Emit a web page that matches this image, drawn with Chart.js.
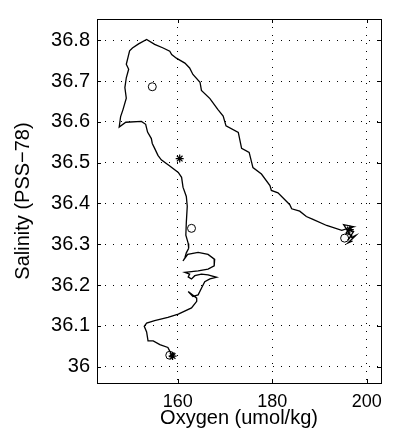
<!DOCTYPE html>
<html>
<head>
<meta charset="utf-8">
<script src="https://cdn.jsdelivr.net/npm/chart.js@4.4.0/dist/chart.umd.min.js"></script>
<style>
  html, body { margin: 0; padding: 0; background: #fff; }
  #wrap { width: 393px; height: 444px; }
</style>
</head>
<body>
<div id="wrap"><canvas id="chart"></canvas></div>
<script>
// profile trace (oxygen umol/kg, salinity PSS-78)
const oxygen = [197.0, 196.0, 197.7, 196.8, 195.1, 197.2, 196.4, 195.6, 196.8, 196.0, 197.2, 195.8, 194.7,
  191.5, 188.6, 187.2, 185.8, 184.1, 183.7, 181.2, 179.8, 179.5, 177.7, 175.9, 175.1,
  173.5, 172.8, 170.2, 169.6, 168.5, 167.8, 166.8, 165.0, 164.7, 163.2, 162.5, 161.5,
  159.7, 158.7, 158.3, 156.9, 155.1, 153.4, 151.7, 150.4, 149.8, 149.5, 149.1, 149.6,
  149.1, 148.8, 149.1, 148.4, 147.9, 147.6, 149.0, 152.3, 153.2, 153.6, 154.4, 154.6,
  155.1, 155.8, 156.5, 158.3, 160.1, 160.8, 161.1, 161.8, 162.0, 161.8, 161.7, 162.2,
  162.3, 161.8, 161.5, 161.1, 162.1, 164.3, 166.4, 167.8, 167.7, 166.4, 164.3, 162.9,
  161.5, 162.5, 162.2, 162.9, 163.6, 165.0, 166.4, 168.2, 166.8, 165.7, 165.0, 164.3,
  163.2, 162.2, 164.0, 164.0, 162.9, 160.1, 157.9, 155.1, 153.4, 152.9, 153.4, 153.7,
  154.8, 156.2, 157.9, 158.3, 158.7, 158.2, 159.3, 158.5, 159.0];
const salinity = [36.308, 36.303, 36.322, 36.317, 36.348, 36.343, 36.341, 36.327, 36.322, 36.310, 36.331, 36.338, 36.334,
  36.346, 36.361, 36.368, 36.381, 36.387, 36.397, 36.426, 36.432, 36.444, 36.472, 36.488, 36.525,
  36.535, 36.574, 36.590, 36.614, 36.630, 36.641, 36.657, 36.677, 36.697, 36.716, 36.732, 36.744,
  36.756, 36.765, 36.773, 36.781, 36.790, 36.802, 36.791, 36.781, 36.774, 36.760, 36.741, 36.729,
  36.708, 36.684, 36.658, 36.630, 36.613, 36.587, 36.599, 36.601, 36.594, 36.575, 36.559, 36.547,
  36.535, 36.518, 36.507, 36.492, 36.476, 36.464, 36.440, 36.417, 36.393, 36.353, 36.322, 36.302,
  36.290, 36.279, 36.267, 36.259, 36.275, 36.280, 36.275, 36.263, 36.247, 36.239, 36.235, 36.233,
  36.231, 36.227, 36.220, 36.215, 36.223, 36.227, 36.225, 36.219, 36.215, 36.208, 36.192, 36.176,
  36.172, 36.184, 36.168, 36.160, 36.144, 36.129, 36.121, 36.113, 36.107, 36.099, 36.085, 36.063,
  36.063, 36.054, 36.047, 36.038, 36.030, 36.024, 36.034, 36.028, 36.022];

// bottle samples
const circleOxygen = [154.6, 162.9, 158.3, 195.3];
const circleSalinity = [36.686, 36.339, 36.028, 36.315];
const starOxygen = [160.4, 158.9, 196.4];
const starSalinity = [36.510, 36.026, 36.336];

const xTicks = [160, 180, 200];
const yTicks = [36, 36.1, 36.2, 36.3, 36.4, 36.5, 36.6, 36.7, 36.8];

const pts = (xs, ys) => xs.map((x, i) => ({ x: x, y: ys[i] }));
const family = "'Liberation Sans', Arial, sans-serif";

// matlab style box with inward ticks
const frame = {
  id: 'frame',
  afterDraw(chart) {
    const { ctx, chartArea: a, scales } = chart;
    ctx.save();
    ctx.strokeStyle = '#000';
    ctx.lineWidth = 1;
    ctx.strokeRect(a.left + 0.5, a.top + 0.5, a.right - a.left, a.bottom - a.top);
    ctx.beginPath();
    xTicks.forEach(v => {
      const px = Math.round(scales.x.getPixelForValue(v)) + 0.5;
      ctx.moveTo(px, a.bottom); ctx.lineTo(px, a.bottom - 4);
      ctx.moveTo(px, a.top); ctx.lineTo(px, a.top + 4);
    });
    yTicks.forEach(v => {
      const py = Math.round(scales.y.getPixelForValue(v)) + 0.5;
      ctx.moveTo(a.left, py); ctx.lineTo(a.left + 4, py);
      ctx.moveTo(a.right, py); ctx.lineTo(a.right - 4, py);
    });
    ctx.stroke();
    ctx.restore();
  }
};

const ctx = document.getElementById('chart').getContext('2d');
new Chart(ctx, {
  type: 'scatter',
  data: {
    datasets: [{
      data: pts(oxygen, salinity),
      showLine: true,
      borderColor: '#000',
      borderWidth: 1.3,
      pointRadius: 0,
      tension: 0
    }, {
      data: pts(circleOxygen, circleSalinity),
      pointStyle: 'circle',
      pointRadius: 4,
      borderColor: '#000',
      backgroundColor: 'rgba(0,0,0,0)',
      borderWidth: 1
    }, {
      data: pts(starOxygen, starSalinity),
      pointStyle: 'star',
      pointRadius: 4,
      borderColor: '#000',
      borderWidth: 1.2
    }]
  },
  options: {
    responsive: true,
    maintainAspectRatio: false,
    animation: false,
    layout: { padding: { top: 6, right: 12 } },
    plugins: { legend: { display: false }, tooltip: { enabled: false } },
    scales: {
      x: {
        type: 'linear',
        min: 142.9,
        max: 203,
        afterBuildTicks: s => { s.ticks = xTicks.map(v => ({ value: v })); },
        afterFit: s => { s.height = 61; },
        grid: { color: '#000', lineWidth: 1, drawTicks: false },
        border: { display: false, dash: [1, 7] },
        ticks: { color: '#000', font: { family: family, size: 18 }, padding: 8, maxRotation: 0,
          callback: v => String(v) },
        title: { display: true, text: 'Oxygen (umol/kg)', color: '#000',
          font: { family: family, size: 20 }, padding: { top: 0, bottom: 14 } }
      },
      y: {
        type: 'linear',
        min: 35.96,
        max: 36.852,
        afterBuildTicks: s => { s.ticks = yTicks.map(v => ({ value: v })); },
        afterFit: s => { s.width = 97; },
        grid: { color: '#000', lineWidth: 1, drawTicks: false },
        border: { display: false, dash: [1, 7] },
        ticks: { color: '#000', font: { family: family, size: 20 }, padding: 7,
          callback: v => String(v) },
        title: { display: true, text: 'Salinity (PSS\u221278)', color: '#000',
          font: { family: family, size: 20 }, padding: { top: 11, bottom: 0 } }
      }
    }
  },
  plugins: [frame]
});
</script>
</body>
</html>
